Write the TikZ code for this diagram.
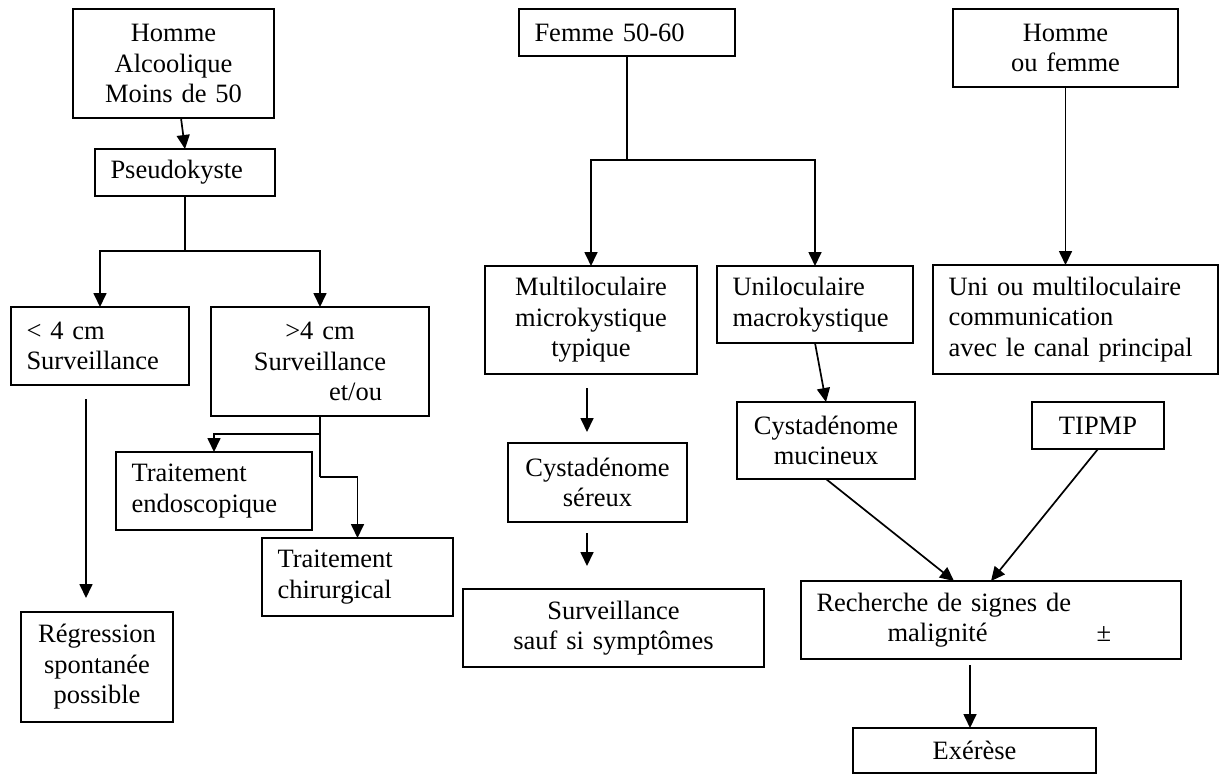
\documentclass[tikz,border=0pt]{standalone}
\usepackage{fontspec}
\setmainfont{Liberation Serif}
\usetikzlibrary{arrows.meta,calc}
\tikzset{
  bx/.style={draw, line width=2.2pt, anchor=north west, inner ysep=0pt, outer sep=0pt,
    font=\fontsize{26.5}{30.5}\selectfont},
  cbox/.style args={#1x#2}{bx, align=center, inner xsep=0pt, text width=#1pt, minimum width=#1pt, minimum height=#2pt},
  lbox/.style args={#1x#2}{bx, align=left, inner xsep=15.5pt, text width=#1pt-31pt, minimum width=#1pt, minimum height=#2pt},
  con/.style={line width=1.7pt},
  arr/.style={con, -{Triangle[length=14pt,width=13pt]}},
}
\begin{document}
\begin{tikzpicture}[x=1pt,y=-1pt]
\useasboundingbox (0,0) rectangle (1220,774);
% left column
\node[cbox=201x109] (A) at (73,9) {Homme\\Alcoolique\\Moins de 50};
\node[lbox=180x47] (P) at (95,149) {Pseudokyste};
\node[lbox=178x78] (L4) at (11,307) {< 4 cm\\Surveillance};
\node[cbox=218x109] (G4) at (211,307) {>4 cm\\Surveillance\\\hspace*{71pt}et/ou};
\node[lbox=196x78] (TE) at (116,452) {Traitement\\endoscopique};
\node[lbox=191x78] (TC) at (262,538) {Traitement\\chirurgical};
\node[cbox=152x110] (R) at (21,612) {Régression\\spontanée\\possible};
% middle column
\node[lbox=216x47] (F) at (519,9) {Femme 50-60};
\node[cbox=212x108] (M) at (485,266) {Multiloculaire\\microkystique\\typique};
\node[lbox=196x77] (U) at (717,266) {Uniloculaire\\macrokystique};
\node[cbox=179x79] (CS) at (508,443) {Cystadénome\\séreux};
\node[cbox=301x78] (S) at (463,589) {Surveillance\\sauf si symptômes};
\node[cbox=178x77] (CM) at (737,402) {Cystadénome\\mucineux};
% right column
\node[cbox=225x78] (H) at (953,9) {Homme\\ou femme};
\node[lbox=285x109] (UM) at (933,265) {Uni ou multiloculaire\\communication\\avec le canal principal};
\node[cbox=132x47] (T) at (1032,402) {TIPMP};
\node[lbox=380x78] (RS) at (801,581) {Recherche de signes de\\\hspace*{71pt}malignité\hspace{109pt}±};
\node[cbox=243x45] (E) at (853,728) {Exérèse};
% connectors left
\draw[arr] ([xshift=7.5pt]A.south) -- (P.north);
\draw[con] (P.south) -- ++(0,55) coordinate (pj);
\draw[arr] (pj) -| (L4.north);
\draw[arr] (pj) -| (G4.north);
\draw[con] (G4.south) -- ++(0,18) coordinate (gj1) -- ++(0,43) coordinate (gj2);
\draw[arr] (gj1) -| (TE.north);
\draw[arr] (gj2) -| (TC.north);
\coordinate (l4s) at ([shift={(-14,14)}]L4.south);
\coordinate (rn) at ([shift={(-11,-14)}]R.north);
\draw[arr] (l4s) -- (rn);
% connectors middle
\draw[con] (F.south) -- (F.south |- 0,160) coordinate (fj);
\draw[arr] (fj) -| (M.north);
\draw[arr] (fj) -| (U.north);
\coordinate (ms) at ([shift={(-4,14)}]M.south);
\coordinate (csn) at ([shift={(-10.5,-11)}]CS.north);
\draw[arr] (ms) -- (csn);
\coordinate (css) at ([shift={(-10.5,11)}]CS.south);
\coordinate (sn) at ([shift={(-26.5,-23)}]S.north);
\draw[arr] (css) -- (sn);
\draw[arr] (U.south) -- (CM.north);
\draw[arr] (CM.south) -- ([xshift=-37pt]RS.north);
\draw[arr] (T.south) -- (RS.north);
\coordinate (rss) at ([shift={(-21,6)}]RS.south);
\draw[arr] (rss) -- (rss |- E.north);
% connectors right
\draw[arr] (H.south) -- (H.south |- UM.north);
\end{tikzpicture}
\end{document}
